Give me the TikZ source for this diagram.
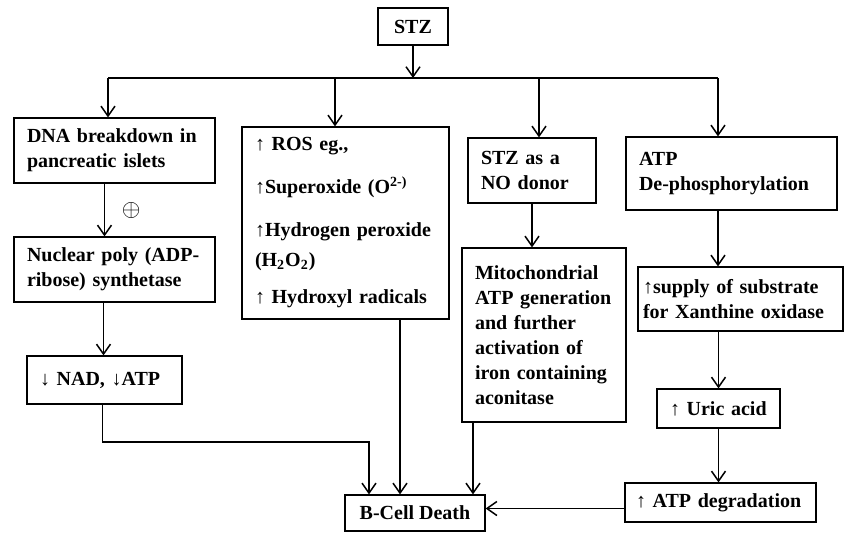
\documentclass[tikz,border=0pt]{standalone}
\usepackage{fontspec}
\setmainfont{Liberation Serif}
\usetikzlibrary{arrows.meta}
\tikzset{
  box/.style={rectangle,draw,line width=0.6pt,font=\bfseries\fontsize{10}{12.5}\selectfont,align=left,inner xsep=6.5pt,inner ysep=2pt},
  arr/.style={line width=0.75pt,-{Straight Barb[length=5pt,width=7pt]}}
}
\begin{document}
\begin{tikzpicture}[x=0.5pt,y=-0.5pt]
    \useasboundingbox (0,0) rectangle (845,532);
    \node (stz)    at (413,26.5)  [box,align=center,minimum width=35pt,minimum height=18.5pt] {STZ};
    \node (dna)    at (114.5,150.5) [box,text width=87.5pt,minimum height=32.5pt] {DNA breakdown in\\pancreatic islets};
    \node (ros)    at (345.5,223) [box,text width=90.5pt,minimum height=96pt] {↑ ROS eg.,\\[9pt]
      ↑Superoxide (O\textsuperscript{2-)}\\[9pt]
      ↑Hydrogen peroxide\\[2.5pt](H\textsubscript{2}O\textsubscript{2})\\[6pt]
      ↑ Hydroxyl radicals};
    \node (nodon)  at (532,170.5) [box,text width=51pt,minimum height=32.5pt] {STZ as a\\NO donor};
    \node (atp)    at (731.5,173.5) [box,text width=92.5pt,minimum height=36.5pt] {ATP\\De-phosphorylation};
    \node (parp)   at (114.5,269.5) [box,text width=87.5pt,minimum height=32.5pt] {Nuclear poly (ADP-\\ribose) synthetase};
    \node (mito)   at (544,335)   [box,text width=69pt,minimum height=87pt] {Mitochondrial\\ATP generation\\and further\\activation of\\iron containing\\aconitase};
    \node (supply) at (740.5,299) [box,inner xsep=2.5pt,text width=97.5pt,minimum height=32pt] {↑supply of substrate\\for Xanthine oxidase};
    \node (nad)    at (104.5,380) [box,text width=64.5pt,minimum height=24pt] {↓ NAD, ↓ATP};
    \node (uric)   at (718.5,408.5) [box,text width=48.5pt,minimum height=19.5pt] {↑ Uric acid};
    \node (deg)    at (720.5,502.5) [box,inner xsep=5.5pt,text width=84.5pt,minimum height=19.5pt] {↑ ATP degradation};
    \node (death)  at (415,513)   [box,align=center,minimum width=70pt,minimum height=18pt] {B-Cell Death};
    % branching bus under STZ
    \coordinate (b1) at (108,78);
    \coordinate (b2) at (335,78);
    \coordinate (b3) at (539,78);
    \coordinate (b4) at (718,78);
    \coordinate (j1) at (369,442);
    \draw [line width=0.9pt] (b1) -- (b4);
    \draw [arr] (stz.south) -- (stz.south |- b1);
    \draw [arr] (b1) -- (b1 |- dna.north);
    \draw [arr] (b2) -- (b2 |- ros.north);
    \draw [arr] (b3) -- (b3 |- nodon.north);
    \draw [arr] (b4) -- (b4 |- atp.north);
    % left column
    \draw [arr] ([xshift=-5pt]dna.south) -- ([xshift=-5pt]parp.north)
    node [right=5pt,midway,font=\large] {$\oplus$};
    \draw [arr] ([xshift=-5.5pt]parp.south) -- ([xshift=-5.5pt]parp.south |- nad.north);
    \draw [arr] ([xshift=-1pt]nad.south) |- (j1) -- (j1 |- death.north);
    % middle columns
    \draw [arr] ([xshift=27.25pt]ros.south) -- ([xshift=27.25pt]ros.south |- death.north);
    \draw [arr] (nodon.south) -- (nodon.south |- mito.north);
    \draw [arr] ([xshift=-35.5pt]mito.south) -- ([xshift=-35.5pt]mito.south |- death.north);
    % right column
    \draw [arr] ([xshift=-6.75pt]atp.south) -- ([xshift=-6.75pt]atp.south |- supply.north);
    \draw [arr] (uric.north |- supply.south) -- (uric.north);
    \draw [arr] (uric.south) -- (uric.south |- deg.north);
    \draw [arr] ([yshift=-3pt]deg.west) -- ([yshift=-3pt]deg.west -| death.east);
  \end{tikzpicture}
\end{document}
